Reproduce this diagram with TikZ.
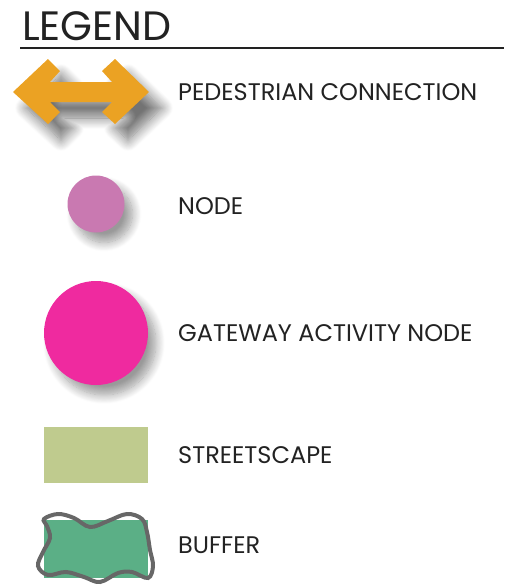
\documentclass[tikz,border=0pt]{standalone}
\usepackage{fontspec}
\setmainfont{Poppins}
\usepackage{xcolor}
\usetikzlibrary{shadows.blur}

\definecolor{pedorange}{HTML}{EBA223}
\definecolor{nodepink}{HTML}{C979B1}
\definecolor{gatepink}{HTML}{EF2A9F}
\definecolor{streetgreen}{HTML}{BFCB8E}
\definecolor{buffergreen}{HTML}{5BAF86}
\definecolor{buffergray}{HTML}{676767}
\definecolor{legendtext}{HTML}{222222}

\begin{document}
\begin{tikzpicture}[x=1pt, y=-1pt,
    entry/.style={anchor=west, inner sep=0pt, text=legendtext, font=\fontsize{24}{24}\selectfont},
    dot/.style={circle, inner sep=0pt, blur shadow={shadow xshift=8pt, shadow yshift=-10pt, shadow blur radius=9pt, shadow opacity=40, shadow blur steps=12}},
    swatch/.style={rectangle, inner sep=0pt, minimum width=104pt, minimum height=56pt}
]
    \useasboundingbox (0,0) rectangle (507,587);

    % Title
    \node[anchor=base west, inner sep=0pt, text=legendtext, font=\fontsize{41}{41}\selectfont] (title) at (22,40) {LEGEND};
    \draw[line width=2pt, legendtext] (20,48) -- (504,48);

    % Pedestrian connection
    \fill[pedorange, blur shadow={shadow xshift=13pt, shadow yshift=-16pt, shadow blur radius=11pt, shadow opacity=55, shadow blur steps=12}]
        (13,92) -- (48,59) -- (60,71) -- (50,82) -- (112,82) -- (102,71) -- (115,59) -- (149,92)
        -- (115,124) -- (102,112) -- (112,102) -- (50,102) -- (60,112) -- (48,124) -- cycle;
    \node[entry] (ped) at (178,92) {PEDESTRIAN CONNECTION};

    % Nodes
    \node[dot, fill=nodepink, minimum size=57pt] (node) at (96,204) {};
    \node[entry] (nodelabel) at (178,206) {NODE};

    \node[dot, fill=gatepink, minimum size=104pt] (gate) at (96,333) {};
    \node[entry] (gatelabel) at (178,333) {GATEWAY ACTIVITY NODE};

    % Streetscape
    \node[swatch, fill=streetgreen] (street) at (96,455) {};
    \node[entry] (streetlabel) at (178,455) {STREETSCAPE};

    % Buffer
    \node[swatch, fill=buffergreen, minimum height=58pt] (buffer) at (96,549) {};
    \draw[buffergray, line width=4pt] plot[smooth cycle, tension=0.6] coordinates {
        (44,519) (58,514) (74,518) (90,527) (108,521) (127,514) (142,519) (147,532)
        (150,550) (153,566) (148,578) (132,572) (118,573) (100,582) (84,577) (66,572)
        (48,575) (38,566) (43,552) (50,538) (47,526)};
    \node[entry] (bufferlabel) at (178,545) {BUFFER};
\end{tikzpicture}
\end{document}
